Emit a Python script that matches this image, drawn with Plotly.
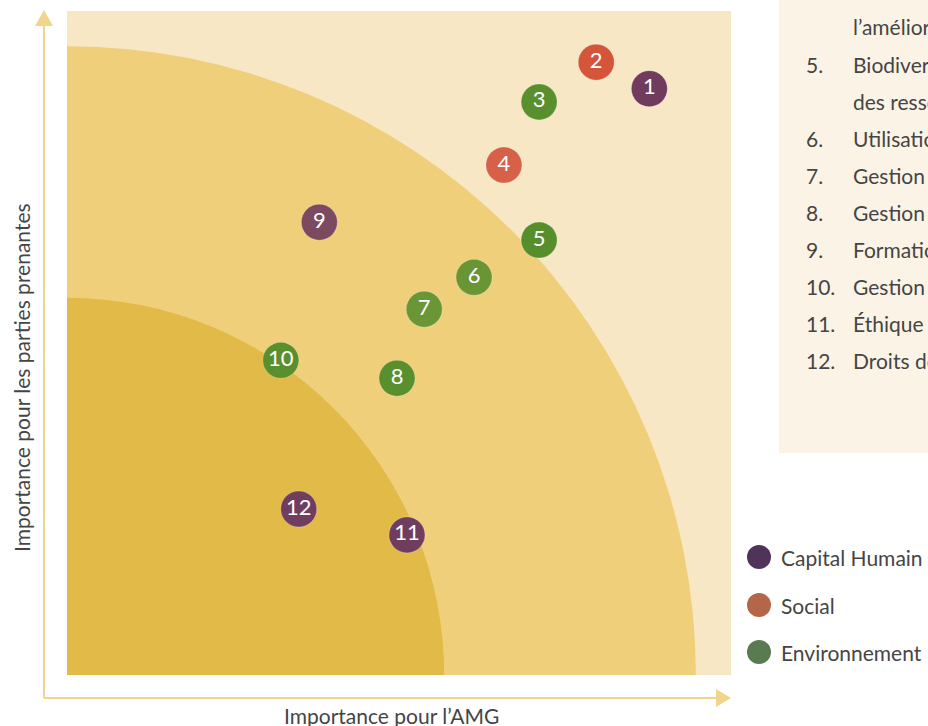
import plotly.graph_objects as go

# ---- data ----
labels = ["1", "2", "3", "4", "5", "6", "7", "8", "9", "10", "11", "12"]
amg_importance = [8.77, 7.97, 7.11, 6.58, 7.11, 6.13, 5.38, 4.97, 3.80, 3.22, 5.12, 3.49]
stakeholder_importance = [8.83, 9.23, 8.63, 7.68, 6.55, 5.99, 5.51, 4.47, 6.82, 4.74, 2.11, 2.50]
point_colors = ["#713b5d", "#d4553a", "#5a8f2e", "#d66048", "#578e2c", "#6a9535",
                "#6b9637", "#5a8f2e", "#7b4a60", "#5a8f2e", "#713d5f", "#713d5f"]

ring_radii = [9.47, 5.68]          # outer, inner threshold circles
ring_colors = ["#efcf7a", "#e2ba48"]

categories = ["Capital Humain", "Social", "Environnement"]
category_colors = ["#4f3358", "#b5654a", "#5a7a52"]

panel_numbers = ["", "5.", "", "6.", "7.", "8.", "9.", "10.", "11.", "12."]
panel_texts = [
    "l\u2019amélioration continue",
    "Biodiversité et préservation",
    "des ressources naturelles",
    "Utilisation durable de l\u2019eau",
    "Gestion de l\u2019énergie",
    "Gestion des déchets",
    "Formation et développement",
    "Gestion des émissions",
    "Éthique des affaires",
    "Droits de l\u2019homme",
]

x_title = "Importance pour l\u2019AMG"
y_title = "Importance pour les parties prenantes"

# ---- layout geometry (page pixels) ----
W, H = 928, 726
PL, PR_EDGE, PT, PB_EDGE = 67, 731, 11, 675
L, T = PL, PT
R = W - PR_EDGE
B = H - PB_EDGE
PW = PR_EDGE - PL
PH = PB_EDGE - PT

def px(xp):
    return (xp - PL) / PW

def py(yp):
    return (PB_EDGE - yp) / PH

FONT = "Lato, 'Open Sans', sans-serif"
TEXT_COLOR = "#454545"
AXIS_COLOR = "#f2d58c"

fig = go.Figure()

fig.add_trace(go.Scatter(
    x=amg_importance, y=stakeholder_importance,
    mode="markers+text",
    text=labels,
    textposition="middle center",
    textfont=dict(family=FONT, size=22, color="white"),
    marker=dict(size=36, color=point_colors, line=dict(width=1, color="rgba(255,255,255,0.25)")),
    hoverinfo="skip",
    showlegend=False,
    cliponaxis=False,
))

shapes = []
# threshold rings
for r, c in zip(ring_radii, ring_colors):
    shapes.append(dict(type="circle", xref="x", yref="y", x0=-r, y0=-r, x1=r, y1=r,
                       fillcolor=c, line=dict(width=0), layer="below"))

# axis arrows
ax_x = px(44)
ax_y = py(698)
shapes.append(dict(type="line", xref="paper", yref="paper", x0=ax_x, y0=ax_y, x1=ax_x, y1=py(24),
                   line=dict(color=AXIS_COLOR, width=2)))
shapes.append(dict(type="line", xref="paper", yref="paper", x0=ax_x, y0=ax_y, x1=px(717), y1=ax_y,
                   line=dict(color=AXIS_COLOR, width=2)))
shapes.append(dict(type="path", xref="paper", yref="paper",
                   path=f"M {px(35)} {py(26)} L {px(44)} {py(10)} L {px(53)} {py(26)} Z",
                   fillcolor=AXIS_COLOR, line=dict(width=0)))
shapes.append(dict(type="path", xref="paper", yref="paper",
                   path=f"M {px(716)} {py(689)} L {px(731)} {py(698)} L {px(716)} {py(707)} Z",
                   fillcolor=AXIS_COLOR, line=dict(width=0)))

# side panel
shapes.append(dict(type="rect", xref="paper", yref="paper", x0=px(779), y0=py(453), x1=px(940), y1=py(-5),
                   fillcolor="#fbf4e6", line=dict(width=0), layer="below"))

annotations = []
# legend
legend_y = [557, 605, 652]
for name, col, yy in zip(categories, category_colors, legend_y):
    shapes.append(dict(type="circle", xref="paper", yref="paper", xsizemode="pixel", ysizemode="pixel",
                       xanchor=px(759), yanchor=py(yy), x0=-12, x1=12, y0=-12, y1=12,
                       fillcolor=col, line=dict(width=0)))
    annotations.append(dict(xref="paper", yref="paper", x=px(779), y=py(yy), text=name, showarrow=False,
                            xanchor="left", yanchor="middle", font=dict(family=FONT, size=21, color=TEXT_COLOR)))

# panel text lines
for i, (num, txt) in enumerate(zip(panel_numbers, panel_texts)):
    yy = 27 + 37.1 * i
    if num:
        annotations.append(dict(xref="paper", yref="paper", x=px(804), y=py(yy), text=num, showarrow=False,
                                xanchor="left", yanchor="middle", font=dict(family=FONT, size=21, color=TEXT_COLOR)))
    annotations.append(dict(xref="paper", yref="paper", x=px(851), y=py(yy), text=txt, showarrow=False,
                            xanchor="left", yanchor="middle", font=dict(family=FONT, size=21, color=TEXT_COLOR)))

# axis titles
annotations.append(dict(xref="paper", yref="paper", x=px(391), y=py(715), text=x_title, showarrow=False,
                        xanchor="center", yanchor="middle", font=dict(family=FONT, size=21, color=TEXT_COLOR)))
annotations.append(dict(xref="paper", yref="paper", x=px(21), y=py(378), text=y_title, showarrow=False,
                        textangle=-90, xanchor="center", yanchor="middle",
                        font=dict(family=FONT, size=21, color=TEXT_COLOR)))

fig.update_layout(
    width=W, height=H,
    margin=dict(l=L, r=R, t=T, b=B, pad=0),
    paper_bgcolor="white",
    plot_bgcolor="#f8e7c5",
    xaxis=dict(range=[0, 10], showgrid=False, zeroline=False, showticklabels=False, ticks="",
               showline=False, fixedrange=True),
    yaxis=dict(range=[0, 10], showgrid=False, zeroline=False, showticklabels=False, ticks="",
               showline=False, fixedrange=True),
    shapes=shapes,
    annotations=annotations,
    showlegend=False,
)

fig.write_html(
    "out.html",
    config={"displayModeBar": False, "staticPlot": True},
    post_script="document.body.style.margin='0';document.body.style.overflow='hidden';",
)
